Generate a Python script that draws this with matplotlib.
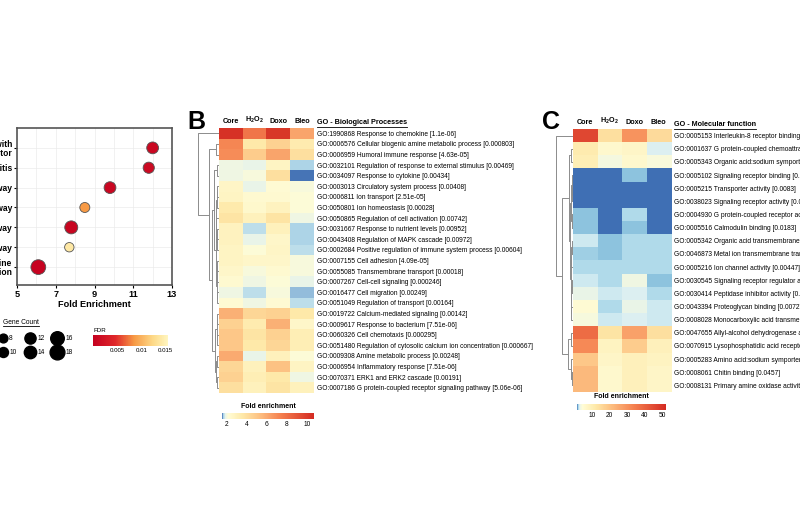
import numpy as np
import matplotlib
matplotlib.use("Agg")
import matplotlib.pyplot as plt
from matplotlib import font_manager
from matplotlib.cm import ScalarMappable
from matplotlib.colors import LinearSegmentedColormap, Normalize
from matplotlib.lines import Line2D

# ---- panel A: KEGG dot plot ----
kegg_terms = ["Viral protein interaction with\ncytokine and cytokine receptor",
              "Rheumatoid arthritis",
              "IL-17 signaling pathway",
              "Chemokine signaling pathway",
              "TNF signaling pathway",
              "NF-kappa B signaling pathway",
              "Cytokine-cytokine\nreceptor interaction"]
kegg_fold = [12.0, 11.8, 9.8, 8.5, 7.8, 7.7, 6.1]
kegg_count = [13, 12, 13, 10, 15, 9, 18]
kegg_fdr = [0.0010, 0.0012, 0.0008, 0.0085, 0.0006, 0.0140, 0.0004]
count_keys = [8, 10, 12, 14, 16, 18]
fdr_ticks = [0.005, 0.01, 0.015]
fdr_ticklabels = ["0.005", "0.01", "0.015"]
fold_ticks = [5, 7, 9, 11, 13]

conditions = ["Core", "H$_2$O$_2$", "Doxo", "Bleo"]

# ---- panel B: GO biological processes ----
bp_terms = [
    "GO:1990868 Response to chemokine [1.1e-06]",
    "GO:0006576 Cellular biogenic amine metabolic process [0.000803]",
    "GO:0006959 Humoral immune response [4.63e-05]",
    "GO:0032101 Regulation of response to external stimulus [0.00469]",
    "GO:0034097 Response to cytokine [0.00434]",
    "GO:0003013 Circulatory system process [0.00408]",
    "GO:0006811 Ion transport [2.51e-05]",
    "GO:0050801 Ion homeostasis [0.00028]",
    "GO:0050865 Regulation of cell activation [0.00742]",
    "GO:0031667 Response to nutrient levels [0.00952]",
    "GO:0043408 Regulation of MAPK cascade [0.00972]",
    "GO:0002684 Positive regulation of immune system process [0.00604]",
    "GO:0007155 Cell adhesion [4.09e-05]",
    "GO:0055085 Transmembrane transport [0.00018]",
    "GO:0007267 Cell-cell signaling [0.000246]",
    "GO:0016477 Cell migration [0.00249]",
    "GO:0051049 Regulation of transport [0.00164]",
    "GO:0019722 Calcium-mediated signaling [0.00142]",
    "GO:0009617 Response to bacterium [7.51e-06]",
    "GO:0060326 Cell chemotaxis [0.000295]",
    "GO:0051480 Regulation of cytosolic calcium ion concentration [0.000667]",
    "GO:0009308 Amine metabolic process [0.00248]",
    "GO:0006954 Inflammatory response [7.51e-06]",
    "GO:0070371 ERK1 and ERK2 cascade [0.00191]",
    "GO:0007186 G protein-coupled receptor signaling pathway [5.06e-06]",
]
bp_fold = [
    [10.4, 7.8, 10.2, 6.2],
    [7.2, 3.6, 4.6, 3.4],
    [7.0, 4.8, 6.2, 4.0],
    [2.0, 1.95, 2.8, 1.75],
    [2.0, 2.1, 4.0, 1.6],
    [2.7, 1.95, 2.3, 2.1],
    [2.8, 2.4, 2.4, 2.2],
    [3.5, 2.5, 2.9, 2.2],
    [3.8, 3.0, 3.8, 2.0],
    [2.9, 1.8, 3.0, 1.75],
    [2.9, 1.95, 2.6, 1.75],
    [2.8, 2.2, 2.7, 1.78],
    [2.8, 2.6, 2.6, 2.1],
    [2.6, 2.1, 2.4, 2.1],
    [2.4, 2.0, 2.2, 1.95],
    [2.0, 1.78, 2.1, 1.72],
    [2.3, 2.0, 2.3, 1.8],
    [5.8, 4.4, 4.6, 3.6],
    [4.6, 3.4, 5.8, 2.6],
    [5.0, 3.8, 4.6, 3.2],
    [5.0, 3.6, 4.4, 3.2],
    [6.0, 1.95, 3.0, 2.2],
    [4.4, 3.0, 5.2, 2.8],
    [4.6, 3.2, 3.6, 2.0],
    [4.0, 3.0, 3.8, 3.0],
]
# linkage: (left id, right id, height); ids >= n are earlier merges
bp_merges = [
    (1, 2, 0.08), (3, 4, 0.07), (5, 6, 0.03), (27, 7, 0.05), (9, 10, 0.04),
    (29, 11, 0.06), (8, 30, 0.08), (12, 13, 0.03), (32, 14, 0.05), (15, 16, 0.04),
    (33, 34, 0.07), (28, 31, 0.10), (36, 35, 0.12), (26, 37, 0.22), (17, 18, 0.05),
    (19, 20, 0.03), (39, 40, 0.07), (21, 22, 0.06), (23, 24, 0.04), (42, 43, 0.08),
    (41, 44, 0.14), (38, 45, 0.30), (25, 46, 0.45), (0, 47, 1.0),
]
bp_stops = [(1.6, "#4674b6"), (1.75, "#b3d9ea"), (1.9, "#e8f4ea"), (2.2, "#fffcd6"),
            (3.6, "#fee9a9"), (5.2, "#fdc384"), (7.4, "#f5804f"), (10.7, "#d42a22")]
bp_ticks = [2, 4, 6, 8, 10]

# ---- panel C: GO molecular function ----
mf_terms = [
    "GO:0005153 Interleukin-8 receptor binding [0.00141]",
    "GO:0001637 G protein-coupled chemoattractant receptor activity [0.0026]",
    "GO:0005343 Organic acid:sodium symporter activity [0.0121]",
    "GO:0005102 Signaling receptor binding [0.000188]",
    "GO:0005215 Transporter activity [0.0083]",
    "GO:0038023 Signaling receptor activity [0.00151]",
    "GO:0004930 G protein-coupled receptor activity [0.00436]",
    "GO:0005516 Calmodulin binding [0.0183]",
    "GO:0005342 Organic acid transmembrane transporter activity [0.0139]",
    "GO:0046873 Metal ion transmembrane transporter activity [0.00512]",
    "GO:0005216 Ion channel activity [0.00447]",
    "GO:0030545 Signaling receptor regulator activity [0.0152]",
    "GO:0030414 Peptidase inhibitor activity [0.0339]",
    "GO:0043394 Proteoglycan binding [0.00727]",
    "GO:0008028 Monocarboxylic acid transmembrane transporter activity [0.0213]",
    "GO:0047655 Allyl-alcohol dehydrogenase activity [0.0457]",
    "GO:0070915 Lysophosphatidic acid receptor activity [0.0331]",
    "GO:0005283 Amino acid:sodium symporter activity [0.0412]",
    "GO:0008061 Chitin binding [0.0457]",
    "GO:0008131 Primary amine oxidase activity [0.0457]",
]
mf_fold = [
    [46, 14, 30, 15],
    [11, 6, 7, 2.8],
    [10, 3.6, 6, 4.0],
    [1.4, 1.4, 1.9, 1.4],
    [1.4, 1.4, 1.4, 1.4],
    [1.4, 1.4, 1.4, 1.4],
    [1.9, 1.4, 2.2, 1.4],
    [1.9, 1.4, 1.8, 1.4],
    [2.6, 1.9, 2.3, 2.3],
    [2.1, 1.9, 2.2, 2.2],
    [2.2, 2.2, 2.2, 2.2],
    [2.6, 2.3, 3.5, 1.9],
    [3.2, 2.6, 2.9, 2.3],
    [5.0, 2.2, 3.3, 2.6],
    [3.8, 2.6, 2.8, 2.6],
    [38, 13, 27, 14],
    [32, 8, 18, 9],
    [19, 7, 9, 8],
    [22, 6, 9, 7],
    [22, 6, 9, 7],
]
mf_merges = [
    (1, 2, 0.05), (4, 5, 0.02), (3, 21, 0.04), (6, 7, 0.04), (22, 23, 0.07),
    (8, 9, 0.03), (25, 10, 0.05), (11, 12, 0.04), (13, 14, 0.05), (27, 28, 0.07),
    (26, 29, 0.09), (24, 30, 0.13), (20, 31, 0.20), (15, 16, 0.08), (18, 19, 0.03),
    (17, 34, 0.06), (33, 35, 0.28), (32, 36, 0.65), (0, 37, 1.0),
]
mf_stops = [(1.4, "#3f6fb4"), (1.8, "#8ec4df"), (2.3, "#b9e0ee"), (2.8, "#ddf0f2"),
            (3.5, "#f3f8e0"), (4.5, "#fffcd6"), (12, "#fee9a9"), (20, "#fdc384"),
            (34, "#f5804f"), (52.3, "#d42a22")]
mf_ticks = [10, 20, 30, 40, 50]

# ---- fonts ----
names = {f.name for f in font_manager.fontManager.ttflist}
NARROW = "Liberation Sans Narrow" in names
FONT = "Liberation Sans Narrow" if NARROW else "Liberation Sans"
K = 1.0 if NARROW else 0.82
plt.rcParams["font.family"] = [FONT, "DejaVu Sans"]
plt.rcParams["mathtext.default"] = "regular"

W, H = 800, 518
fig = plt.figure(figsize=(W / 100, H / 100), dpi=100)
underlined = []


def box(x0, y0, x1, y1):
    return fig.add_axes([x0 / W, 1 - y1 / H, (x1 - x0) / W, (y1 - y0) / H])


def ftext(x, y, s, **kw):
    return fig.text(x / W, 1 - y / H, s, **kw)


def value_cmap(stops):
    v0, v1 = stops[0][0], stops[-1][0]
    cmap = LinearSegmentedColormap.from_list("", [((v - v0) / (v1 - v0), c) for v, c in stops])
    return cmap, Normalize(v0, v1)


# ================= panel A =================
fdr_cmap = LinearSegmentedColormap.from_list(
    "fdr", [(0, "#c4001f"), (0.3, "#e0282a"), (0.55, "#f79a45"), (0.8, "#fdd987"), (1, "#fff6c0")])
fdr_norm = Normalize(0, 0.0155)


def dot_size(g):
    d = 4.0 + 0.6 * g  # diameter in px
    return (d * 0.72) ** 2


ax = box(17, 128, 172, 285)
ypos = np.arange(len(kegg_terms), 0, -1)
ax.scatter(kegg_fold, ypos, s=[dot_size(g) for g in kegg_count], c=kegg_fdr,
           cmap=fdr_cmap, norm=fdr_norm, edgecolors="#555555", linewidths=0.6, zorder=3)
ax.set_xlim(5, 13)
ax.set_ylim(0.1, 8.0)
ax.set_xticks(fold_ticks)
ax.set_xticks([6, 8, 10, 12], minor=True)
ax.set_yticks(ypos)
ax.set_yticklabels(kegg_terms, fontsize=7.5 * K, fontweight="bold", linespacing=0.95)
ax.tick_params(axis="x", labelsize=8 * K, length=2, pad=1.5)
ax.tick_params(axis="y", length=2, pad=1.5)
ax.tick_params(which="minor", length=0)
for lab in ax.get_xticklabels():
    lab.set_fontweight("bold")
ax.grid(True, which="both", color="#ebebeb", lw=0.5, zorder=0)
ax.set_axisbelow(True)
for sp in ax.spines.values():
    sp.set_color("#555555")
    sp.set_linewidth(1.2)
ax.set_xlabel("Fold Enrichment", fontsize=8 * K, fontweight="bold", labelpad=1)

# gene count legend
underlined.append(ftext(3, 322, "Gene Count", fontsize=5.8 * K, va="center"))
kax = box(0, 330, 100, 362)
kax.set_xlim(0, 100)
kax.set_ylim(362, 330)
kax.axis("off")
for i, g in enumerate(count_keys):
    kx = 3 + 27 * (i // 2)
    ky = 8 + 14 * (i % 2)
    kax.scatter([kx], [330 + ky], s=dot_size(g), color="black", clip_on=False)
    kax.text(kx + (4.0 + 0.6 * g) / 2 + 1.5, 330 + ky, str(g), fontsize=5.8 * K, va="center")

# FDR colorbar
ftext(94, 330, "FDR", fontsize=5.5 * K, va="center")
fcax = box(93, 335, 168, 346)
fcb = fig.colorbar(ScalarMappable(fdr_norm, fdr_cmap), cax=fcax, orientation="horizontal", ticks=fdr_ticks)
fcb.set_ticklabels(fdr_ticklabels)
fcb.outline.set_visible(False)
fcax.tick_params(length=0, labelsize=5.4 * K, pad=1.5)


# ================= heatmaps =================
def heat_panel(x0, x1, y0, y1, dx, values, terms, merges, title, letter, stops, ticks,
               cb, cb_label_y, letter_x, head_y):
    cmap, norm = value_cmap(stops)
    hax = box(x0, y0, x1, y1)
    hax.imshow(np.array(values, dtype=float), cmap=cmap, norm=norm, aspect="auto",
               interpolation="nearest")
    hax.yaxis.tick_right()
    hax.set_yticks(range(len(terms)))
    hax.set_yticklabels(terms, fontsize=5.8 * K)
    hax.xaxis.tick_top()
    hax.set_xticks(range(len(conditions)))
    hax.set_xticklabels(conditions, fontsize=6.4 * K, fontweight="bold")
    hax.tick_params(axis="y", length=0, pad=2)
    hax.tick_params(axis="x", length=0, pad=2.5)
    for sp in hax.spines.values():
        sp.set_visible(False)
    underlined.append(ftext(x1 + 3, head_y, title, fontsize=6.4 * K, fontweight="bold",
                            va="center"))
    ftext(letter_x, 122, letter, fontsize=18, fontweight="bold", family="Liberation Sans",
          ha="center", va="center")

    # row dendrogram
    dax = box(dx, y0, x0, y1)
    n = len(terms)
    pos = list(range(n))
    hgt = [0.0] * n
    for a, b, h in merges:
        dax.plot([hgt[a], h, h, hgt[b]], [pos[a], pos[a], pos[b], pos[b]],
                 color="#8c8c8c", lw=0.7, clip_on=False)
        pos.append((pos[a] + pos[b]) / 2)
        hgt.append(h)
    dax.set_xlim(max(hgt), -0.05)
    dax.set_ylim(n - 0.5, -0.5)
    dax.axis("off")

    # colour key
    cax = box(*cb)
    c = fig.colorbar(ScalarMappable(norm, cmap), cax=cax, orientation="horizontal", ticks=ticks)
    c.outline.set_visible(False)
    cax.tick_params(length=0, labelsize=5.8 * K, pad=1.5)
    ftext((cb[0] + cb[2]) / 2, cb_label_y, "Fold enrichment", fontsize=6.2 * K,
          fontweight="bold", ha="center", va="center")


heat_panel(219, 314, 128, 393, 198, bp_fold, bp_terms, bp_merges,
           "GO - Biological Processes", "B", bp_stops, bp_ticks,
           (222, 413, 314, 419), 407, 196, 123)
heat_panel(573, 671, 129, 392, 556, mf_fold, mf_terms, mf_merges,
           "GO - Molecular function", "C", mf_stops, mf_ticks,
           (577, 404, 666, 410), 397, 551, 125)

# underline titles
fig.canvas.draw()
for t in underlined:
    bb = t.get_window_extent()
    yy = (bb.y0 - 0.5) / H
    fig.add_artist(Line2D([bb.x0 / W, bb.x1 / W], [yy, yy], transform=fig.transFigure,
                          color="black", lw=0.6))

fig.savefig("out.png", dpi=100)
